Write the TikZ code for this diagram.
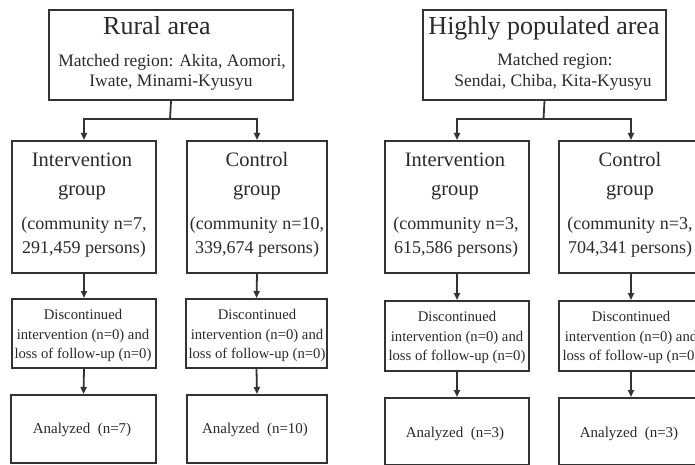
\documentclass[tikz,border=0pt]{standalone}
\usepackage{fontspec}
\setmainfont{Liberation Serif}
\usetikzlibrary{arrows.meta}
\definecolor{ink}{HTML}{333333}
\definecolor{txt}{HTML}{2A2A2A}
\tikzset{
  box/.style={draw=ink, line width=2pt, rectangle, inner sep=0pt, anchor=north west},
  lbl/.style={anchor=base, inner sep=0pt, text=txt},
  conn/.style={draw=ink, line width=1.8pt},
  arr/.style={conn, -{Triangle[length=7pt,width=6pt]}},
  fT/.style={font=\fontsize{26}{30}\selectfont},
  fM/.style={font=\fontsize{17.5}{21}\selectfont},
  fG/.style={font=\fontsize{20.5}{24}\selectfont},
  fC/.style={font=\fontsize{18}{21}\selectfont},
  fD/.style={font=\fontsize{14.7}{18}\selectfont},
  fA/.style={font=\fontsize{15}{18}\selectfont},
}
\begin{document}
\begin{tikzpicture}[x=1pt,y=-1pt]
\useasboundingbox (0,0) rectangle (695,465);
\clip (0,0) rectangle (695,465);
\fill[white] (0,0) rectangle (695,465);

% ---------- Rural area ----------
\node[box, minimum width=244, minimum height=90] (rtop) at (48,9) {};
\node[lbl, fT] (rtt) at (157,35) {Rural area};
\node[lbl, fM] (rtm1) at (172,67) {Matched region: Akita, Aomori,};
\node[lbl, fM] (rtm2) at (171,87) {Iwate, Minami-Kyusyu};

\node[box, minimum width=144, minimum height=132] (ri) at (11,140) {};
\node[lbl, fG] (ri1) at (82,167) {Intervention};
\node[lbl, fG] (ri2) at (82,195) {group};
\node[lbl, fC] (ri3) at (84,229) {(community n=7,};
\node[lbl, fC] (ri4) at (84,253) {291,459 persons)};

\node[box, minimum width=140, minimum height=132] (rc) at (186,140) {};
\node[lbl, fG] (rc1) at (257,166) {Control};
\node[lbl, fG] (rc2) at (257,195) {group};
\node[lbl, fC] (rc3) at (257,229) {(community n=10,};
\node[lbl, fC] (rc4) at (257,253) {339,674 persons)};

\node[box, minimum width=144, minimum height=69] (rid) at (11,298) {};
\node[lbl, fD] (rid1) at (83,319) {Discontinued};
\node[lbl, fD] (rid2) at (83,339) {intervention (n=0) and};
\node[lbl, fD] (rid3) at (83,358) {loss of follow-up (n=0)};

\node[box, minimum width=141, minimum height=69] (rcd) at (185,298) {};
\node[lbl, fD] (rcd1) at (257,319) {Discontinued};
\node[lbl, fD] (rcd2) at (257,339) {intervention (n=0) and};
\node[lbl, fD] (rcd3) at (257,358) {loss of follow-up (n=0)};

\node[box, minimum width=145, minimum height=68] (ria) at (10,394) {};
\node[lbl, fA] (ria1) at (82,433) {Analyzed\ \ (n=7)};

\node[box, minimum width=140, minimum height=68] (rca) at (186,394) {};
\node[lbl, fA] (rca1) at (255,433) {Analyzed\ \ (n=10)};

\coordinate (rj) at (170,119);
\draw[conn] (rtop.south) -- (rj);
\draw[arr] (rj) -| (ri.north);
\draw[arr] (rj) -| (rc.north);
\draw[arr] (ri.south) -- (rid.north);
\draw[arr] (rc.south) -- (rcd.north);
\draw[arr] (rid.south) -- (ria.north);
\draw[arr] (rcd.south) -- (rca.north);

% ---------- Highly populated area ----------
\node[box, minimum width=243, minimum height=90] (htop) at (422,9) {};
\node[lbl, fT] (htt) at (544,35) {Highly populated area};
\node[lbl, fM] (htm1) at (555,66) {Matched region:};
\node[lbl, fM] (htm2) at (553,87) {Sendai, Chiba, Kita-Kyusyu};

\node[box, minimum width=144, minimum height=132] (hi) at (384,140) {};
\node[lbl, fG] (hi1) at (455,167) {Intervention};
\node[lbl, fG] (hi2) at (455,195) {group};
\node[lbl, fC] (hi3) at (456,229) {(community n=3,};
\node[lbl, fC] (hi4) at (456,253) {615,586 persons)};

\node[box, minimum width=144, minimum height=132] (hc) at (558,140) {};
\node[lbl, fG] (hc1) at (630,166) {Control};
\node[lbl, fG] (hc2) at (630,195) {group};
\node[lbl, fC] (hc3) at (630,229) {(community n=3,};
\node[lbl, fC] (hc4) at (630,253) {704,341 persons)};

\node[box, minimum width=144, minimum height=70] (hid) at (384,300) {};
\node[lbl, fD] (hid1) at (457,321) {Discontinued};
\node[lbl, fD] (hid2) at (457,341) {intervention (n=0) and};
\node[lbl, fD] (hid3) at (457,360) {loss of follow-up (n=0)};

\node[box, minimum width=144, minimum height=70] (hcd) at (558,300) {};
\node[lbl, fD] (hcd1) at (631,321) {Discontinued};
\node[lbl, fD] (hcd2) at (631,341) {intervention (n=0) and};
\node[lbl, fD] (hcd3) at (631,360) {loss of follow-up (n=0)};

\node[box, minimum width=144, minimum height=67] (hia) at (384,397) {};
\node[lbl, fA] (hia1) at (455,437) {Analyzed\ \ (n=3)};

\node[box, minimum width=144, minimum height=67] (hca) at (558,397) {};
\node[lbl, fA] (hca1) at (629,437) {Analyzed\ \ (n=3)};

\coordinate (hj) at (543.5,119);
\draw[conn] (htop.south) -- (hj);
\draw[arr] (hj) -| (hi.north);
\draw[arr] (hj) -| (hc.north);
\draw[arr] (hi.south) -- (hid.north);
\draw[arr] (hc.south) -- (hcd.north);
\draw[arr] (hid.south) -- (hia.north);
\draw[arr] (hcd.south) -- (hca.north);
\end{tikzpicture}
\end{document}
